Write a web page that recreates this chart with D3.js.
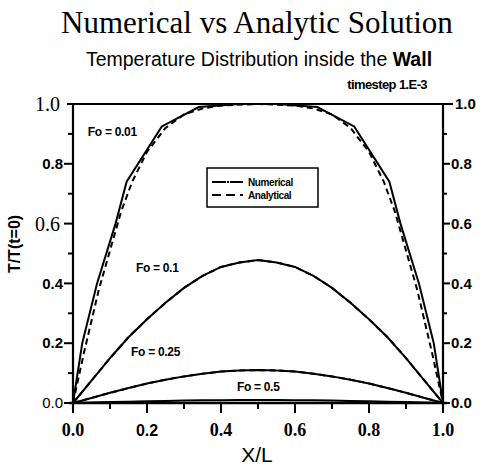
<!DOCTYPE html>
<html>
<head>
<meta charset="utf-8">
<script src="https://cdn.jsdelivr.net/npm/d3@7"></script>
<style>
  body { margin: 0; background: #fff; }
  svg { display: block; }
</style>
</head>
<body>
<div id="chart"></div>
<script>
// Grid positions along the wall (X/L)
const xGrid = [0, 0.05, 0.1, 0.15, 0.2, 0.25, 0.3, 0.35, 0.4, 0.45, 0.5, 0.55, 0.6, 0.65, 0.7, 0.75, 0.8, 0.85, 0.9, 0.95, 1.0];

// Fo = 0.01 is coarse and steep, read on its own points
const xFo001Num = [0, 0.025, 0.065, 0.115, 0.145, 0.24, 0.34, 0.45, 0.5, 0.55, 0.66, 0.76, 0.855, 0.885, 0.935, 0.975, 1.0];
const fo001Num = [0, 0.2, 0.4, 0.6, 0.74, 0.925, 0.99, 1.0, 1.0, 1.0, 0.99, 0.925, 0.74, 0.6, 0.4, 0.2, 0];
const xFo001Ana = [0, 0.03, 0.07, 0.1, 0.13, 0.16, 0.2, 0.25, 0.3, 0.35, 0.4, 0.5, 0.6, 0.65, 0.7, 0.75, 0.8, 0.84, 0.87, 0.9, 0.93, 0.97, 1.0];
const fo001Ana = [0, 0.17, 0.38, 0.51, 0.64, 0.74, 0.84, 0.92, 0.965, 0.985, 0.995, 1.0, 0.995, 0.985, 0.965, 0.92, 0.84, 0.74, 0.64, 0.51, 0.38, 0.17, 0];

// The other Fourier numbers (numerical and analytical overlap)
const fo01 = [0, 0.075, 0.15, 0.22, 0.28, 0.335, 0.385, 0.425, 0.455, 0.47, 0.478, 0.47, 0.455, 0.425, 0.385, 0.335, 0.28, 0.22, 0.15, 0.075, 0];
const fo025 = [0, 0.017, 0.034, 0.05, 0.065, 0.078, 0.089, 0.098, 0.105, 0.109, 0.11, 0.109, 0.105, 0.098, 0.089, 0.078, 0.065, 0.05, 0.034, 0.017, 0];
const fo05 = [0, 0.0015, 0.003, 0.0045, 0.006, 0.007, 0.008, 0.009, 0.0095, 0.01, 0.01, 0.01, 0.0095, 0.009, 0.008, 0.007, 0.006, 0.0045, 0.003, 0.0015, 0];

// Tick labels
const xTicks = [0, 0.2, 0.4, 0.6, 0.8, 1.0];
const yTicks = [0, 0.2, 0.4, 0.6, 0.8, 1.0];
const minorTicks = [0, 0.1, 0.2, 0.3, 0.4, 0.5, 0.6, 0.7, 0.8, 0.9, 1.0];

// Curve labels
const foLabels = ["Fo = 0.01", "Fo = 0.1", "Fo = 0.25", "Fo = 0.5"];
const foLabelX = [0.04, 0.17, 0.157, 0.443];
const foLabelY = [0.893, 0.437, 0.157, 0.04];

const width = 481;
const height = 468;
const margin = { top: 104, right: 38, bottom: 65, left: 73 };

const svg = d3.select("#chart")
    .append("svg")
    .attr("width", width)
    .attr("height", height);

const x = d3.scaleLinear().domain([0, 1]).range([margin.left, width - margin.right]);
const y = d3.scaleLinear().domain([0, 1]).range([height - margin.bottom, margin.top]);

const sans = "'Liberation Sans', Arial, sans-serif";
const serif = "'Liberation Serif', 'Times New Roman', serif";

// Titles
svg.append("text")
    .attr("x", 257).attr("y", 33)
    .attr("text-anchor", "middle")
    .attr("font-family", serif)
    .attr("font-size", 31)
    .text("Numerical vs Analytic Solution");

const sub = svg.append("text")
    .attr("x", 259).attr("y", 66)
    .attr("text-anchor", "middle")
    .attr("font-family", sans)
    .attr("font-size", 19.5);
sub.append("tspan").text("Temperature Distribution inside the ");
sub.append("tspan").attr("font-weight", "bold").text("Wall");

svg.append("text")
    .attr("x", 427).attr("y", 89)
    .attr("text-anchor", "end")
    .attr("font-family", sans)
    .attr("font-size", 13)
    .attr("font-weight", "bold")
    .attr("letter-spacing", -0.6)
    .text("timestep 1.E-3");

// Frame: left, right, bottom, top
const x0 = x(0), x1 = x(1), y0 = y(0), y1 = y(1);
svg.append("line").attr("x1", x0).attr("x2", x0).attr("y1", y1 - 1).attr("y2", y0 + 6)
    .attr("stroke", "#000").attr("stroke-width", 2.2);
svg.append("line").attr("x1", x1).attr("x2", x1).attr("y1", y1 - 1).attr("y2", y0 + 6)
    .attr("stroke", "#000").attr("stroke-width", 2.2);
svg.append("line").attr("x1", x0 - 4).attr("x2", x1 + 4).attr("y1", y0).attr("y2", y0)
    .attr("stroke", "#000").attr("stroke-width", 2.5);
svg.append("line").attr("x1", x0 - 6).attr("x2", x1 + 10).attr("y1", y1).attr("y2", y1)
    .attr("stroke", "#000").attr("stroke-width", 2.2);

// Minor + major ticks
svg.append("g").selectAll("line").data(minorTicks).enter().append("line")
    .attr("x1", d => x(d)).attr("x2", d => x(d))
    .attr("y1", y0).attr("y2", (d, i) => y0 + (i % 2 === 0 ? 10 : 6))
    .attr("stroke", "#000").attr("stroke-width", 2);
svg.append("g").selectAll("line").data(minorTicks.slice(0, 10)).enter().append("line")
    .attr("x1", x0).attr("x2", (d, i) => x0 - (i % 2 === 0 ? 9 : 5))
    .attr("y1", d => y(d)).attr("y2", d => y(d))
    .attr("stroke", "#000").attr("stroke-width", 2);
svg.append("g").selectAll("line").data(minorTicks.slice(0, 10)).enter().append("line")
    .attr("x1", x1).attr("x2", (d, i) => x1 + (i % 2 === 0 ? 7 : 4))
    .attr("y1", d => y(d)).attr("y2", d => y(d))
    .attr("stroke", "#000").attr("stroke-width", 2);

// Left labels (scan mixes fonts)
const leftSerif = [false, false, false, true, false, true];
svg.append("g").selectAll("text").data(yTicks).enter().append("text")
    .attr("x", (d, i) => leftSerif[i] ? 60 : 63)
    .attr("y", d => y(d))
    .attr("dy", "0.35em")
    .attr("text-anchor", "end")
    .attr("font-family", (d, i) => leftSerif[i] ? serif : sans)
    .attr("font-size", (d, i) => leftSerif[i] ? 20 : 15)
    .attr("font-weight", (d, i) => (leftSerif[i] || i === 0) ? "normal" : "bold")
    .text(d => d.toFixed(1));

// Right labels
svg.append("g").selectAll("text").data(yTicks).enter().append("text")
    .attr("x", (d, i) => i === 5 ? 455 : 451)
    .attr("y", d => y(d))
    .attr("dy", "0.35em")
    .attr("font-family", sans)
    .attr("font-size", 15)
    .attr("font-weight", "bold")
    .text(d => d.toFixed(1));

// Bottom labels
svg.append("g").selectAll("text").data(xTicks).enter().append("text")
    .attr("x", d => x(d))
    .attr("y", 436)
    .attr("text-anchor", "middle")
    .attr("font-family", (d, i) => i === 1 ? sans : serif)
    .attr("font-size", (d, i) => i === 1 ? 16 : 18)
    .attr("font-weight", "bold")
    .text(d => d.toFixed(1));

// Axis titles
svg.append("text")
    .attr("x", 257).attr("y", 462)
    .attr("text-anchor", "middle")
    .attr("font-family", sans)
    .attr("font-size", 21)
    .text("X/L");

svg.append("text")
    .attr("transform", "translate(20,244) rotate(-90)")
    .attr("text-anchor", "middle")
    .attr("font-family", sans)
    .attr("font-size", 16)
    .attr("font-weight", "bold")
    .text("T/T(t=0)");

// Curves
const line = d3.line().x(d => x(d[0])).y(d => y(d[1]));
const series = [
    { xs: xFo001Num, ys: fo001Num, dash: null },
    { xs: xFo001Ana, ys: fo001Ana, dash: "6,4" },
    { xs: xGrid, ys: fo01, dash: null },
    { xs: xGrid, ys: fo01, dash: "6,4" },
    { xs: xGrid, ys: fo025, dash: null },
    { xs: xGrid, ys: fo025, dash: "6,4" },
    { xs: xGrid, ys: fo05, dash: null }
];
svg.append("g").selectAll("path").data(series).enter().append("path")
    .attr("d", s => line(s.xs.map((v, i) => [v, s.ys[i]])))
    .attr("fill", "none")
    .attr("stroke", "#000")
    .attr("stroke-width", 2)
    .attr("stroke-dasharray", s => s.dash);

// Curve labels
svg.append("g").selectAll("text").data(foLabels).enter().append("text")
    .attr("x", (d, i) => x(foLabelX[i]))
    .attr("y", (d, i) => y(foLabelY[i]))
    .attr("font-family", sans)
    .attr("font-size", 12)
    .attr("font-weight", "bold")
    .attr("letter-spacing", -0.3)
    .text(d => d);

// Legend
const legend = svg.append("g").attr("transform", "translate(207,168)");
legend.append("rect")
    .attr("width", 111).attr("height", 39)
    .attr("fill", "#fff").attr("stroke", "#000").attr("stroke-width", 1.5);
const legendItems = ["Numerical", "Analytical"];
const legendDash = ["14,1,2,1,14", "9,5"];
legendItems.forEach((name, i) => {
    legend.append("line")
        .attr("x1", 5).attr("x2", 36)
        .attr("y1", 14 + i * 13).attr("y2", 14 + i * 13)
        .attr("stroke", "#000").attr("stroke-width", 2)
        .attr("stroke-dasharray", legendDash[i]);
    legend.append("text")
        .attr("x", 41).attr("y", 14 + i * 13)
        .attr("dy", "0.35em")
        .attr("font-family", sans)
        .attr("font-size", 10)
        .attr("font-weight", "bold")
        .attr("letter-spacing", -0.4)
        .text(name);
});
</script>
</body>
</html>
